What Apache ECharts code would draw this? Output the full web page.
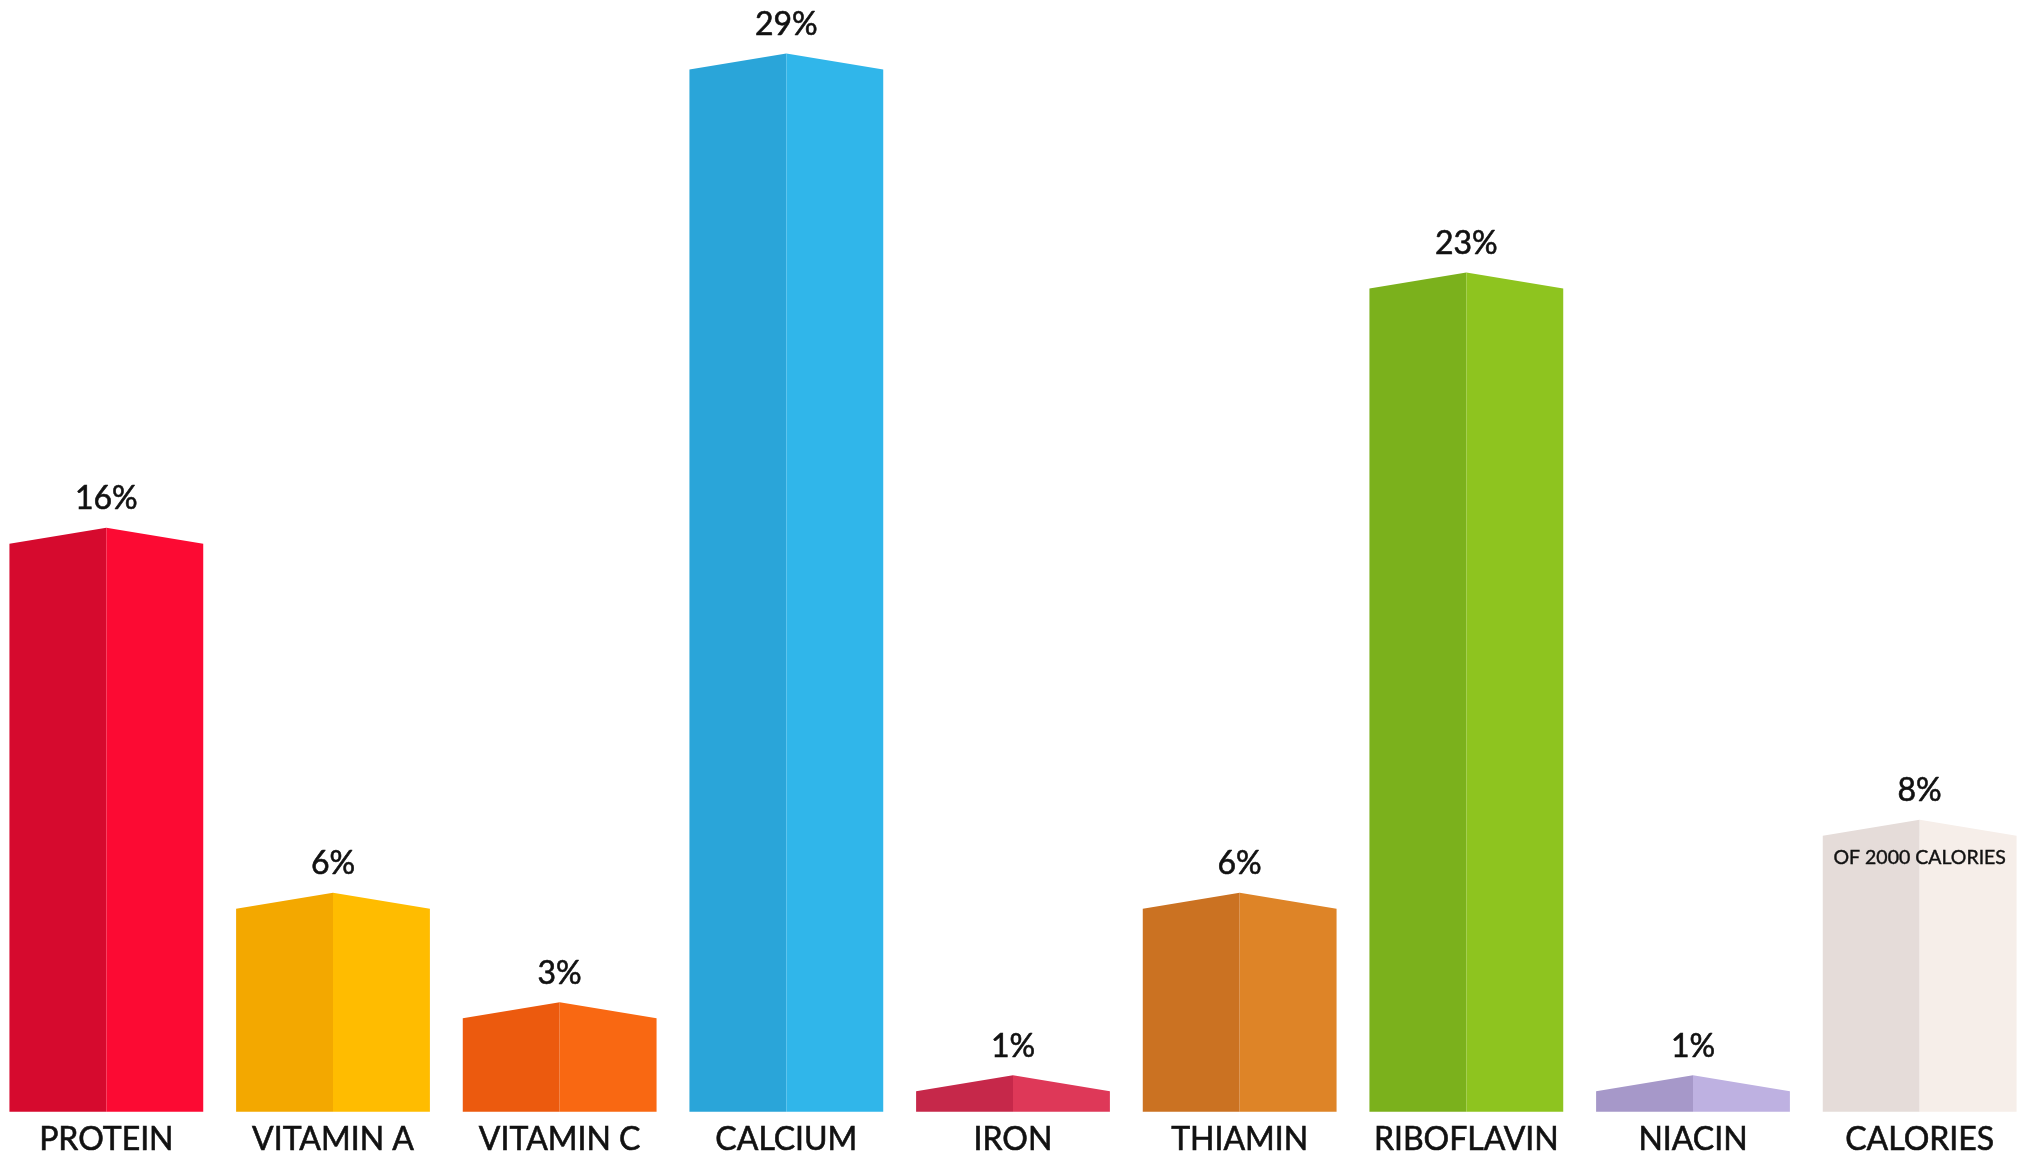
<!DOCTYPE html>
<html>
<head>
<meta charset="utf-8">
<title>Daily nutrition values</title>
<script src="https://cdn.jsdelivr.net/npm/echarts@6/dist/echarts.min.js"></script>
<style>
  html, body { margin: 0; padding: 0; background: #ffffff; overflow: hidden; }
  body { width: 2019px; height: 1156px; position: relative; }
  /* plot area runs slightly past both page edges so the outer columns sit flush */
  #chart { position: absolute; left: -7px; top: 0; width: 2040px; height: 1156px; }
</style>
</head>
<body>
<div id="chart"></div>
<script>
// Nutrients and their share of daily value (%)
const categories = ['PROTEIN', 'VITAMIN A', 'VITAMIN C', 'CALCIUM', 'IRON', 'THIAMIN', 'RIBOFLAVIN', 'NIACIN', 'CALORIES'];
const values = [16, 6, 3, 29, 1, 6, 23, 1, 8];
// Extra note printed on a bar face
const notes = ['', '', '', '', '', '', '', '', 'OF 2000 CALORIES'];
// Shaded (left) and lit (right) faces of each column
const shadeColors = ['#d60a2e', '#f3a800', '#ec5a0e', '#2aa5d9', '#c6284a', '#cb7222', '#7bb11c', '#a698c9', '#e5dcd9'];
const litColors   = ['#fc0a33', '#ffbc00', '#f96812', '#30b6ea', '#de3858', '#de8427', '#8ec41f', '#beb1e1', '#f6eee9'];

const FONT = 'Lato, "Noto Sans", sans-serif';
const INK = '#111111';
const chart = echarts.init(document.getElementById('chart'), null, { renderer: 'canvas' });

function renderColumn(params, api) {
  const idx = params.dataIndex;
  const base = api.coord([api.value(0), 0]);
  const peak = api.coord([api.value(0), api.value(1)]);
  const band = api.size([1, 0])[0];
  const w = band * 0.855;
  const cx = base[0];
  const x0 = cx - w / 2;
  const x1 = cx + w / 2;
  const rise = 16;
  const children = [
    {
      type: 'polygon',
      shape: { points: [[x0, base[1]], [x0, peak[1] + rise], [cx, peak[1]], [cx, base[1]]] },
      style: { fill: shadeColors[idx] }
    },
    {
      type: 'polygon',
      shape: { points: [[cx, base[1]], [cx, peak[1]], [x1, peak[1] + rise], [x1, base[1]]] },
      style: { fill: litColors[idx] }
    },
    {
      type: 'text',
      style: {
        x: cx, y: peak[1] - 29,
        text: api.value(1) + '%',
        fill: INK,
        stroke: INK, lineWidth: 0.6,
        font: '32px ' + FONT,
        align: 'center', verticalAlign: 'middle'
      }
    }
  ];
  if (notes[idx]) {
    children.push({
      type: 'text',
      style: {
        x: cx, y: peak[1] + 38,
        text: notes[idx],
        fill: INK,
        stroke: INK, lineWidth: 0.4,
        font: '19.5px ' + FONT,
        align: 'center', verticalAlign: 'middle'
      }
    });
  }
  return { type: 'group', children: children };
}

chart.setOption({
  animation: false,
  backgroundColor: '#ffffff',
  grid: { left: 0, right: 0, top: 17, bottom: 44, containLabel: false },
  xAxis: {
    type: 'category',
    data: categories,
    boundaryGap: true,
    axisLine: { show: false },
    axisTick: { show: false },
    axisLabel: {
      color: INK,
      fontSize: 32,
      fontFamily: FONT,
      textBorderColor: INK,
      textBorderWidth: 0.6,
      margin: 12,
      verticalAlign: 'top',
      interval: 0
    }
  },
  yAxis: { type: 'value', min: 0, max: 30, show: false, splitLine: { show: false } },
  series: [{
    type: 'custom',
    renderItem: renderColumn,
    data: values.map((v, i) => [i, v]),
    encode: { x: 0, y: 1 }
  }]
});
</script>
</body>
</html>
